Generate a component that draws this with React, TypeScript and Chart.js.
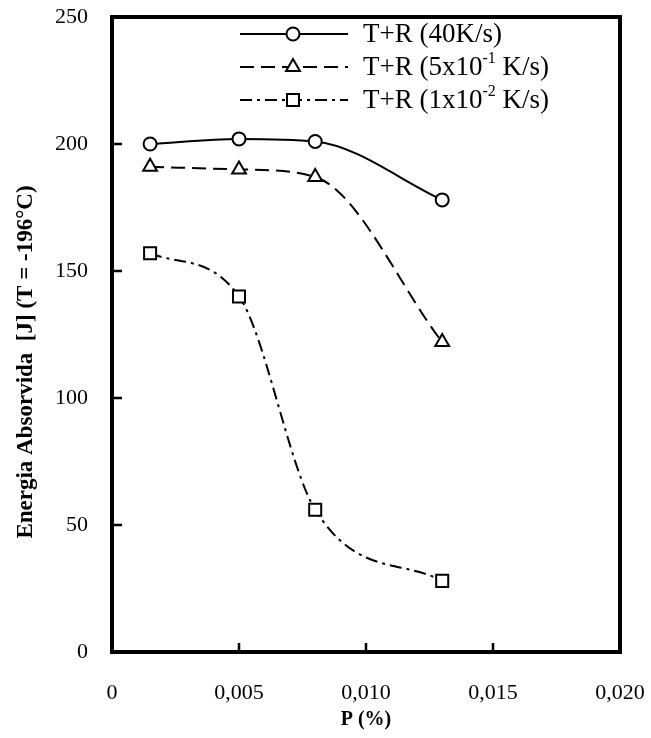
import React, { useEffect, useRef } from "react";
import { Chart, registerables } from "chart.js";

Chart.register(...registerables);

// Phosphorus content (%) of each specimen
const pValues = [0.0015, 0.005, 0.008, 0.013];
// Absorbed energy (J) at -196 °C for each cooling rate
const energy40 = [200, 202, 201, 178];
const energy05 = [191, 190, 187, 122];
const energy001 = [157, 140, 56, 28];

// Superscript parts are written inside braces
const seriesLabels = ["T+R (40K/s)", "T+R (5x10{-1} K/s)", "T+R (1x10{-2} K/s)"];
const xTickValues = [0, 0.005, 0.01, 0.015, 0.02];
const yTickValues = [0, 50, 100, 150, 200, 250];
const xTitle = "P (%)";
const yTitle = "Energia Absorvida  [J] (T = -196°C)";

const SERIF = "'Liberation Serif', 'Times New Roman', serif";

function toPoints(values: number[]) {
  return pValues.map((p, i) => ({ x: p, y: values[i] }));
}

function drawMarker(ctx: CanvasRenderingContext2D, style: string, x: number, y: number, r: number) {
  ctx.beginPath();
  if (style === "circle") {
    ctx.arc(x, y, r, 0, Math.PI * 2);
  } else if (style === "triangle") {
    ctx.moveTo(x, y - r);
    ctx.lineTo(x + r * Math.sin(Math.PI / 3), y + r * 0.5);
    ctx.lineTo(x - r * Math.sin(Math.PI / 3), y + r * 0.5);
    ctx.closePath();
  } else {
    const s = r * Math.SQRT1_2;
    ctx.rect(x - s, y - s, 2 * s, 2 * s);
  }
  ctx.fillStyle = "#fff";
  ctx.fill();
  ctx.setLineDash([]);
  ctx.lineWidth = 2;
  ctx.strokeStyle = "#000";
  ctx.stroke();
}

function drawRichText(ctx: CanvasRenderingContext2D, text: string, x: number, y: number, size: number) {
  const parts = text.split(/(\{[^}]*\})/);
  let cx = x;
  for (const part of parts) {
    if (!part) continue;
    if (part.startsWith("{")) {
      const sup = part.slice(1, -1);
      ctx.font = `${Math.round(size * 0.6)}px ${SERIF}`;
      ctx.fillText(sup, cx, y - size * 0.35);
      cx += ctx.measureText(sup).width;
    } else {
      ctx.font = `${size}px ${SERIF}`;
      ctx.fillText(part, cx, y);
      cx += ctx.measureText(part).width;
    }
  }
}

const framePlugin = {
  id: "frameAndLegend",
  afterDraw(chart: any) {
    const { ctx, chartArea: a, scales } = chart;
    ctx.save();
    ctx.setLineDash([]);
    ctx.strokeStyle = "#000";

    // inward tick marks
    ctx.lineWidth = 2.5;
    ctx.beginPath();
    xTickValues.slice(1, -1).forEach((v) => {
      const x = scales.x.getPixelForValue(v);
      ctx.moveTo(x, a.bottom);
      ctx.lineTo(x, a.bottom - 9);
    });
    yTickValues.slice(1, -1).forEach((v) => {
      const y = scales.y.getPixelForValue(v);
      ctx.moveTo(a.left, y);
      ctx.lineTo(a.left + 10, y);
    });
    ctx.stroke();

    // plot frame
    ctx.lineWidth = 4;
    ctx.strokeRect(a.left, a.top, a.width, a.height);

    // vertical axis title
    ctx.save();
    ctx.translate(26, 362);
    ctx.rotate(-Math.PI / 2);
    ctx.fillStyle = "#000";
    ctx.font = `bold 23px ${SERIF}`;
    ctx.textAlign = "center";
    ctx.textBaseline = "middle";
    ctx.fillText(yTitle, 0, 0);
    ctx.restore();

    // legend
    const rows = [34, 67, 100];
    chart.data.datasets.forEach((ds: any, i: number) => {
      const y = rows[i];
      ctx.beginPath();
      ctx.setLineDash(ds.borderDash || []);
      ctx.lineWidth = 2;
      ctx.strokeStyle = "#000";
      ctx.moveTo(240, y);
      ctx.lineTo(348, y);
      ctx.stroke();
      drawMarker(ctx, ds.pointStyle, 293, y, ds.pointRadius);
      ctx.fillStyle = "#000";
      ctx.textBaseline = "middle";
      ctx.textAlign = "left";
      drawRichText(ctx, ds.label, 363, y + 1, 27);
    });
    ctx.restore();
  },
};

export default function App() {
  const canvasRef = useRef<HTMLCanvasElement | null>(null);

  useEffect(() => {
    document.body.style.margin = "0";
    const canvas = canvasRef.current;
    if (!canvas) return;

    const common = {
      borderColor: "#000",
      borderWidth: 2,
      pointBackgroundColor: "#fff",
      pointBorderColor: "#000",
      pointBorderWidth: 2,
      fill: false,
      cubicInterpolationMode: "monotone" as const,
    };

    const chart = new Chart(canvas, {
      type: "line",
      data: {
        datasets: [
          { ...common, label: seriesLabels[0], data: toPoints(energy40), pointStyle: "circle", pointRadius: 6.5 },
          { ...common, label: seriesLabels[1], data: toPoints(energy05), pointStyle: "triangle", pointRadius: 8, borderDash: [14, 7] },
          { ...common, label: seriesLabels[2], data: toPoints(energy001), pointStyle: "rect", pointRadius: 8.5, borderDash: [12, 5, 3, 5] },
        ],
      },
      options: {
        responsive: false,
        animation: false,
        devicePixelRatio: 1,
        layout: { padding: { top: 17, right: 31, left: 0, bottom: 0 } },
        plugins: { legend: { display: false }, tooltip: { enabled: false } },
        scales: {
          x: {
            type: "linear",
            min: 0,
            max: 0.02,
            afterBuildTicks: (scale: any) => {
              scale.ticks = xTickValues.map((v) => ({ value: v }));
            },
            afterFit: (scale: any) => {
              scale.height = 86;
              scale.paddingLeft = 0;
              scale.paddingRight = 0;
            },
            ticks: {
              color: "#000",
              padding: 20,
              maxRotation: 0,
              font: { family: SERIF, size: 22 },
              callback: (v: any) => (Number(v) === 0 ? "0" : Number(v).toFixed(3).replace(".", ",")),
            },
            grid: { display: false },
            border: { display: false },
            title: {
              display: true,
              text: xTitle,
              color: "#000",
              font: { family: SERIF, size: 20, weight: "bold" },
              padding: { top: 0, bottom: 6 },
            },
          },
          y: {
            min: 0,
            max: 250,
            afterBuildTicks: (scale: any) => {
              scale.ticks = yTickValues.map((v) => ({ value: v }));
            },
            afterFit: (scale: any) => {
              scale.width = 112;
              scale.paddingTop = 0;
              scale.paddingBottom = 0;
            },
            ticks: {
              color: "#000",
              padding: 16,
              font: { family: SERIF, size: 22 },
            },
            grid: { display: false },
            border: { display: false },
          },
        },
      },
      plugins: [framePlugin],
    });

    return () => chart.destroy();
  }, []);

  return (
    <div style={{ width: 651, height: 738, background: "#fff" }}>
      <canvas ref={canvasRef} width={651} height={738} />
    </div>
  );
}
